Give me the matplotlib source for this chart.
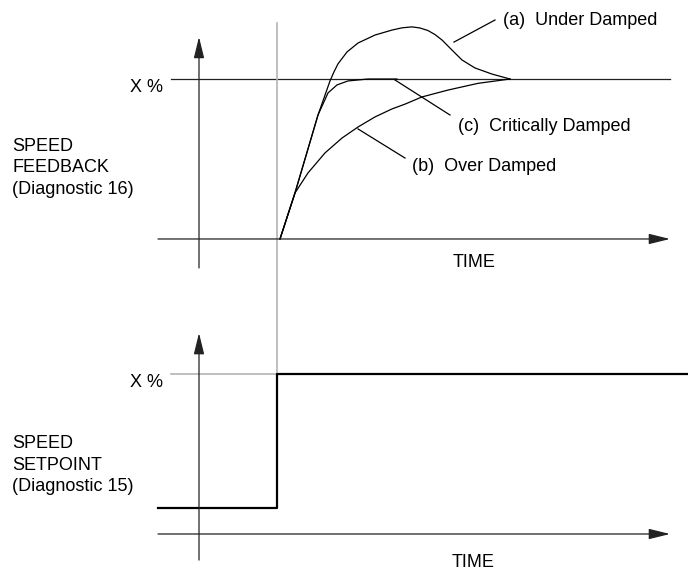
import matplotlib.pyplot as plt

plt.rcParams['font.family'] = ['Liberation Sans', 'DejaVu Sans']

# Feedback responses: time in arbitrary units (step at t = 0), value in % of X
under_t = [0.3, 1.8, 4.1, 5.3, 5.7, 6.1, 7.0, 8.1, 9.8, 11.5, 12.5, 13.5, 14.3,
           15.1, 15.8, 16.5, 17.5, 18.5, 19.8, 21.5, 23.3]
under_v = [0, 28.8, 77.5, 98.8, 104.5, 109.5, 116.9, 122.5, 127.5, 130.6, 132.0,
           132.6, 131.9, 130.3, 127.8, 124.4, 118.1, 111.9, 106.9, 103.1, 100]
crit_t = [0.3, 1.8, 4.1, 5.1, 6.0, 7.1, 9.1, 12.0]
crit_v = [0, 28.8, 77.5, 91.3, 96.3, 98.8, 100, 100]
over_t = [0.3, 1.8, 3.1, 4.8, 6.5, 8.1, 9.8, 11.5, 12.8, 14.5, 17.1, 20.1, 23.3]
over_v = [0, 28.8, 41.3, 53.8, 63.1, 70, 76.3, 81.3, 84.3, 88.8, 93.1, 97.3, 100]

# Setpoint step
setpoint_t = [-11.9, 0, 0, 41.1]
setpoint_v = [16.3, 16.3, 100, 100]

AX_COL = '#222222'
GRAY = '#b4b4b4'

fig = plt.figure(figsize=(6.88, 5.72), dpi=100)
top = fig.add_axes([0, 0.493, 1, 0.507])
bot = fig.add_axes([0, 0, 1, 0.493])
top.set_xlim(-27.7, 41.1)
top.set_ylim(-31.9, 149.4)
bot.set_xlim(-27.7, 41.1)
bot.set_ylim(-23.75, 152.5)
for ax in (top, bot):
    ax.axis('off')


def arrow(ax, x0, y0, x1, y1):
    ax.annotate('', xy=(x1, y1), xytext=(x0, y0), annotation_clip=False,
                arrowprops=dict(arrowstyle='-|>,head_length=1.3,head_width=0.32',
                                color=AX_COL, lw=0.9, shrinkA=0, shrinkB=0,
                                mutation_scale=10))


# ---- top: speed feedback
arrow(top, -7.8, -18.1, -7.8, 126.3)
arrow(top, -11.9, 0, 39.3, 0)
top.plot([-10.6, 39.3], [100, 100], color=AX_COL, lw=0.9)
top.plot([0, 0], [135, -85], color=GRAY, lw=1.2, clip_on=False)

for t, v in [(under_t, under_v), (crit_t, crit_v), (over_t, over_v)]:
    top.plot(t, v, color='black', lw=0.9, solid_joinstyle='round')

# leader lines and labels
top.plot([17.7, 21.8], [123.1, 136.9], color='black', lw=0.9)
top.plot([11.8, 17.3], [99.4, 77.5], color='black', lw=0.9)
top.plot([8.1, 12.8], [68.8, 50.6], color='black', lw=0.9)
top.text(22.6, 136.3, '(a)  Under Damped', fontsize=13, va='center')
top.text(18.1, 70.6, '(c)  Critically Damped', fontsize=13, va='center')
top.text(13.5, 45.6, '(b)  Over Damped', fontsize=13, va='center')

top.text(-11.4, 94.4, 'X %', fontsize=13, ha='right', va='center')
top.text(-26.5, 44.4, 'SPEED\nFEEDBACK\n(Diagnostic 16)', fontsize=13,
         va='center', linespacing=1.35)
top.text(19.7, -15, 'TIME', fontsize=13, ha='center', va='center')

# ---- bottom: speed setpoint
arrow(bot, -7.8, -16.3, -7.8, 125.6)
arrow(bot, -11.9, 0, 39.3, 0)
bot.plot([-10.6, 0], [100, 100], color=GRAY, lw=1.2)
bot.plot(setpoint_t, setpoint_v, color='black', lw=1.6, clip_on=False)

bot.text(-11.4, 95, 'X %', fontsize=13, ha='right', va='center')
bot.text(-26.5, 43.1, 'SPEED\nSETPOINT\n(Diagnostic 15)', fontsize=13,
         va='center', linespacing=1.35)
bot.text(19.6, -18.1, 'TIME', fontsize=13, ha='center', va='center')

fig.savefig('out.png', dpi=100)
